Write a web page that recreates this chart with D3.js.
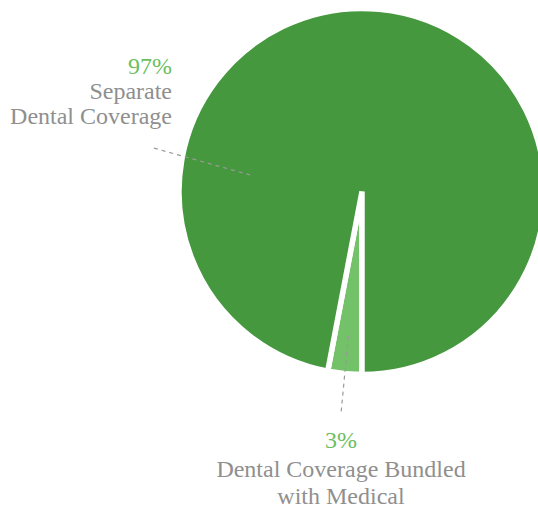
<!DOCTYPE html>
<html>
<head>
<meta charset="utf-8">
<script src="https://cdn.jsdelivr.net/npm/d3@7"></script>
<style>
  html, body { margin: 0; padding: 0; background: #fff; }
  svg { display: block; }
</style>
</head>
<body>
<svg id="chart" width="538" height="508"></svg>
<script>
// Share of dental coverage arrangements
const categories = ["Dental Coverage Bundled with Medical", "Separate Dental Coverage"];
const values = [3, 97];
const labelLines = [["Dental Coverage Bundled", "with Medical"], ["Separate", "Dental Coverage"]];
const sliceColors = ["#73c168", "#45983e"];

const width = 538, height = 508;
const cx = 362, cy = 191.5, radius = 183;

const svg = d3.select("#chart");
const g = svg.append("g").attr("transform", `translate(${cx},${cy})`);

// Pie starts at six o'clock so the small slice sits just left of the bottom
const pie = d3.pie().sort(null).value(d => d)
  .startAngle(Math.PI).endAngle(3 * Math.PI);
const arcs = pie(values);
const arc = d3.arc().innerRadius(0).outerRadius(radius);

g.selectAll("path.slice")
  .data(arcs)
  .join("path")
  .attr("class", "slice")
  .attr("d", arc)
  .attr("fill", (d, i) => sliceColors[i])
  .attr("stroke", "#fff")
  .attr("stroke-width", 5.5)
  .attr("stroke-linejoin", "miter");

// Leader lines, given as polar points (angle in radians, radius in px)
const midAngle = d => (d.startAngle + d.endAngle) / 2;
const leaders = [
  { from: [midAngle(arcs[0]), 145], to: [midAngle(arcs[0]), 222] },
  { from: [-1.424, 113], to: [-1.365, 213.5] }
];
g.selectAll("line.leader")
  .data(leaders)
  .join("line")
  .attr("class", "leader")
  .attr("x1", d => d3.pointRadial(...d.from)[0])
  .attr("y1", d => d3.pointRadial(...d.from)[1])
  .attr("x2", d => d3.pointRadial(...d.to)[0])
  .attr("y2", d => d3.pointRadial(...d.to)[1])
  .attr("stroke", "#9a9a9a")
  .attr("stroke-width", 1.2)
  .attr("stroke-dasharray", "4,4");

// Labels: percentage in green, category name in grey beneath it
const labelPlace = [
  { x: -21, y: 256.5, anchor: "middle", gaps: [28.5, 27.5] },
  { x: -190, y: -118, anchor: "end", gaps: [25.2, 25.7] }
];
const font = "'Liberation Serif', 'Times New Roman', serif";

arcs.forEach((d, i) => {
  const p = labelPlace[i];
  g.append("text")
    .attr("x", p.x).attr("y", p.y)
    .attr("text-anchor", p.anchor)
    .attr("font-family", font)
    .attr("font-size", 24)
    .attr("fill", "#6cbf60")
    .text(values[i] + "%");
  let y = p.y;
  labelLines[i].forEach((line, k) => {
    y += p.gaps[k];
    g.append("text")
      .attr("x", p.x).attr("y", y)
      .attr("text-anchor", p.anchor)
      .attr("font-family", font)
      .attr("font-size", 24)
      .attr("fill", "#8f8f8f")
      .text(line);
  });
});
</script>
</body>
</html>
